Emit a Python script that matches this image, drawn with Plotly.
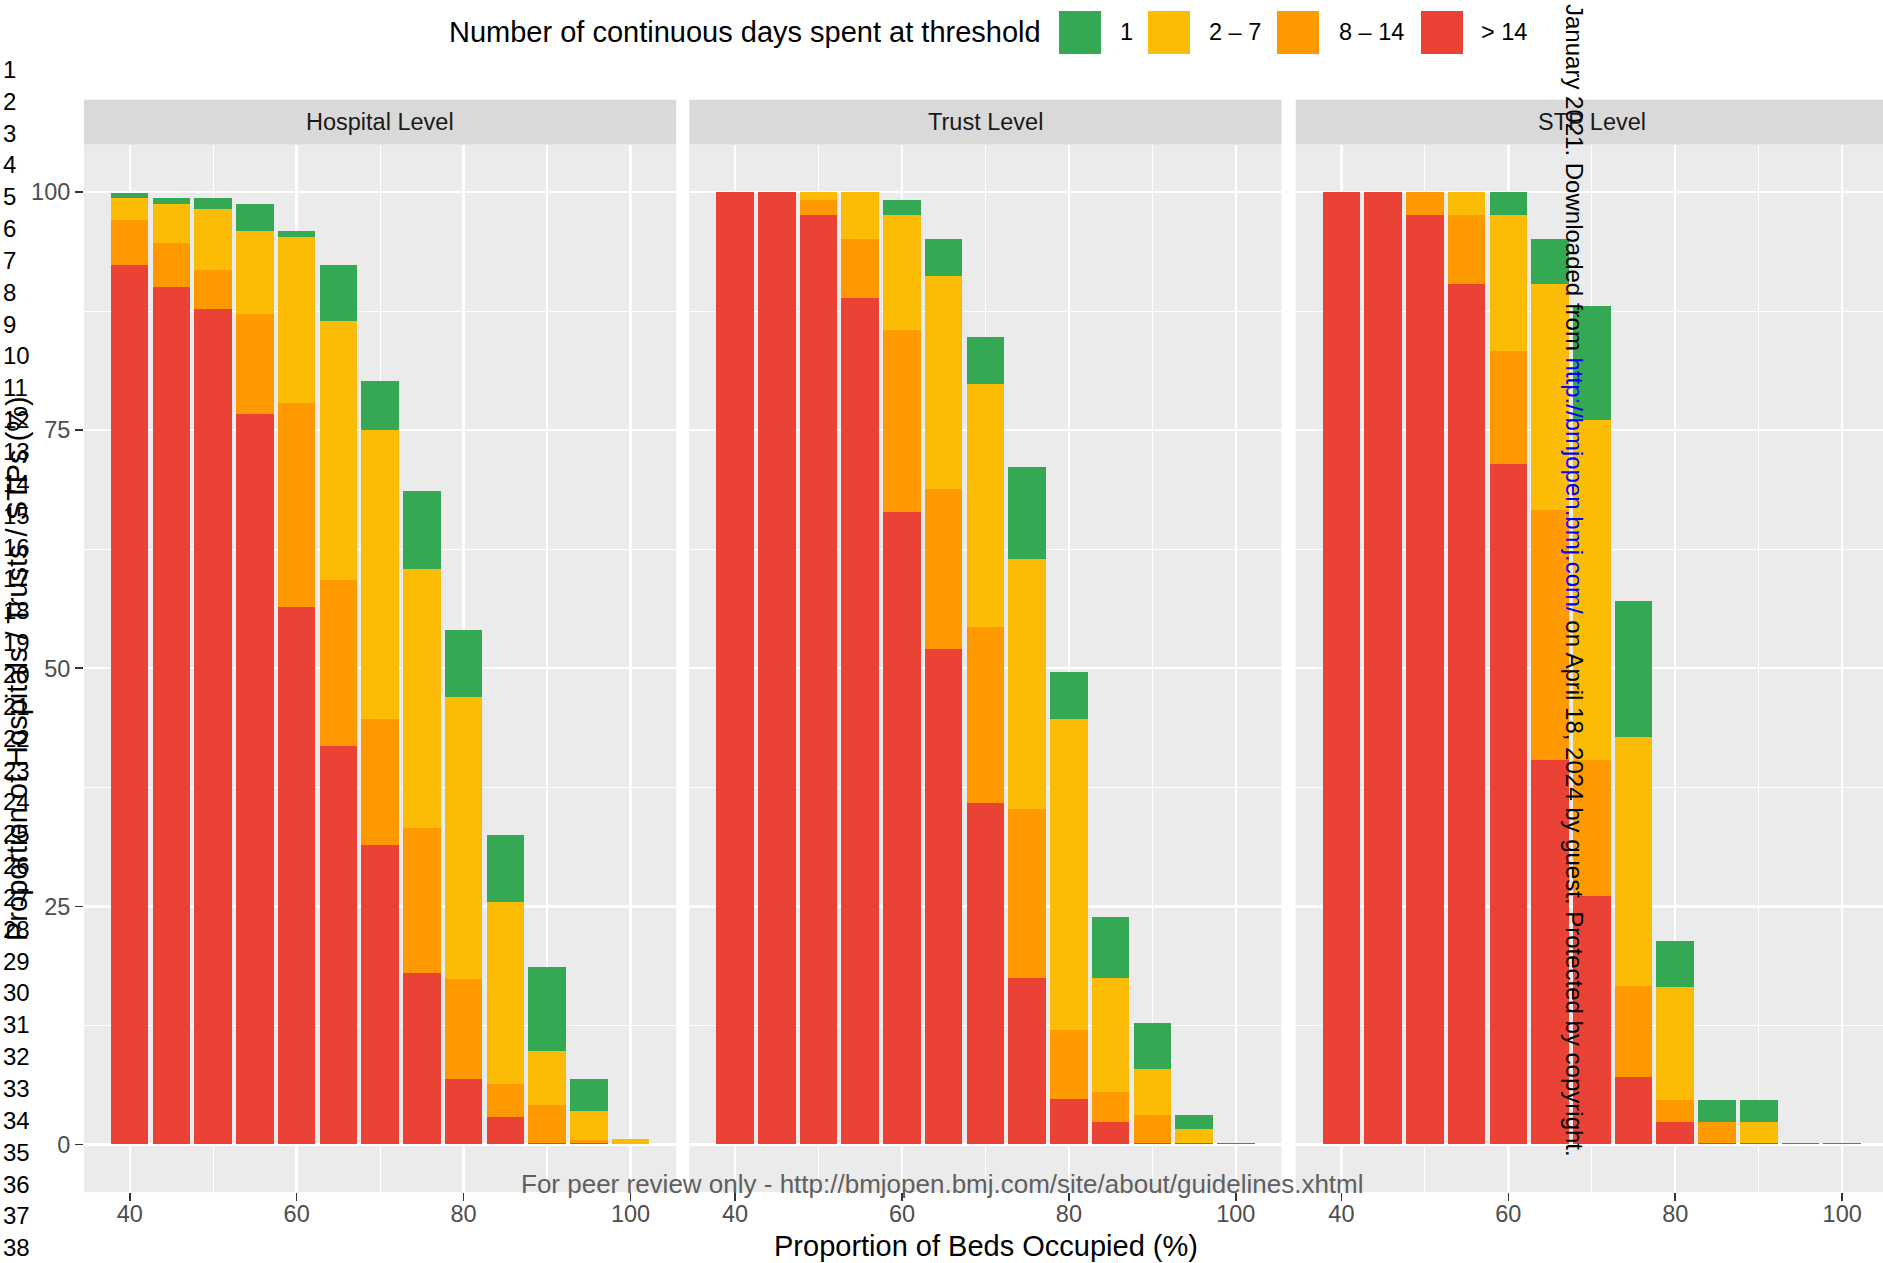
import plotly.graph_objects as go

W, H = 1883, 1263

# ---------------- data ----------------
occupancy = [40, 45, 50, 55, 60, 65, 70, 75, 80, 85, 90, 95, 100]
categories = ["> 14", "8 – 14", "2 – 7", "1"]          # bottom -> top of the stack
legend_order = ["1", "2 – 7", "8 – 14", "> 14"]
cat_colors = {"1": "#34A853", "2 – 7": "#FBBC05", "8 – 14": "#FF9900", "> 14": "#EA4335"}
panel_titles = ["Hospital Level", "Trust Level", "STP Level"]

# share (%) of units in each category of continuous days at threshold
hospital_gt14 = [92.4, 90.0, 87.7, 76.7, 56.4, 41.8, 31.4, 18.0, 6.9, 2.9, 0.15, 0.15, 0.1]
hospital_8_14 = [4.7, 4.7, 4.1, 10.5, 21.5, 17.5, 13.3, 15.2, 10.5, 3.5, 3.95, 0.35, 0.0]
hospital_2_7 = [2.3, 4.1, 6.4, 8.7, 17.4, 27.2, 30.3, 27.2, 29.6, 19.1, 5.7, 3.0, 0.5]
hospital_1 = [0.5, 0.6, 1.2, 2.9, 0.6, 5.8, 5.2, 8.2, 7.0, 7.0, 8.8, 3.4, 0.0]

trust_gt14 = [100.0, 100.0, 97.6, 88.9, 66.4, 52.0, 35.9, 17.5, 4.8, 2.4, 0.15, 0.15, 0.15]
trust_8_14 = [0.0, 0.0, 1.6, 6.2, 19.1, 16.8, 18.4, 17.7, 7.2, 3.1, 2.95, 0.0, 0.0]
trust_2_7 = [0.0, 0.0, 0.8, 4.9, 12.1, 22.4, 25.6, 26.3, 32.7, 12.0, 4.8, 1.45, 0.0]
trust_1 = [0.0, 0.0, 0.0, 0.0, 1.6, 3.9, 4.9, 9.6, 4.9, 6.4, 4.9, 1.5, 0.0]

stp_gt14 = [100.0, 100.0, 97.6, 90.4, 71.4, 40.4, 26.1, 7.1, 2.4, 0.15, 0.15, 0.15, 0.15]
stp_8_14 = [0.0, 0.0, 2.4, 7.2, 11.9, 26.2, 14.3, 9.5, 2.3, 2.25, 0.0, 0.0, 0.0]
stp_2_7 = [0.0, 0.0, 0.0, 2.4, 14.3, 23.8, 35.7, 26.2, 11.8, 0.0, 2.25, 0.0, 0.0]
stp_1 = [0.0, 0.0, 0.0, 0.0, 2.4, 4.7, 11.9, 14.3, 4.9, 2.3, 2.3, 0.0, 0.0]

panel_data = [
    {"> 14": hospital_gt14, "8 – 14": hospital_8_14, "2 – 7": hospital_2_7, "1": hospital_1},
    {"> 14": trust_gt14, "8 – 14": trust_8_14, "2 – 7": trust_2_7, "1": trust_1},
    {"> 14": stp_gt14, "8 – 14": stp_8_14, "2 – 7": stp_2_7, "1": stp_1},
]

x_ticks = [40, 60, 80, 100]
y_ticks = [0, 25, 50, 75, 100]
line_numbers = list(range(1, 39))

# ---------------- layout geometry (pixels) ----------------
FONT = "Liberation Sans, Arial, Helvetica, sans-serif"
px_per_unit = 8.347
x_lo, x_hi = 34.525, 105.475
panel_lefts = [84.0, 689.3, 1295.7]
panel_w = (x_hi - x_lo) * px_per_unit
plot_top, plot_bot = 144.5, 1192.1
strip_top = 99.7


def px(x):
    return x / W


def py(y):
    return 1 - y / H


fig = go.Figure()

for i, data in enumerate(panel_data):
    suffix = "" if i == 0 else str(i + 1)
    for cat in categories:
        fig.add_trace(go.Bar(
            x=occupancy, y=data[cat], width=4.5,
            marker=dict(color=cat_colors[cat], line=dict(width=0)),
            name=cat, showlegend=False, hoverinfo="skip",
            xaxis="x" + suffix, yaxis="y" + suffix,
        ))

layout = dict(
    width=W, height=H, autosize=False,
    margin=dict(l=0, r=0, t=0, b=0, pad=0),
    paper_bgcolor="white", plot_bgcolor="#EBEBEB",
    barmode="stack", bargap=0,
    font=dict(family=FONT, color="black"),
    shapes=[], annotations=[],
)

for i in range(3):
    suffix = "" if i == 0 else str(i + 1)
    left = panel_lefts[i]
    right = min(left + panel_w, W)
    xr_hi = x_lo + (right - left) / px_per_unit
    layout["xaxis" + suffix] = dict(
        domain=[px(left), px(right)], range=[x_lo, xr_hi],
        anchor="y" + suffix, tickmode="array", tickvals=x_ticks,
        ticks="outside", ticklen=8, tickwidth=1.6, tickcolor="#333333",
        ticklabelstandoff=-7,
        tickfont=dict(size=23.5, color="#4D4D4D", family=FONT),
        showgrid=True, gridcolor="white", gridwidth=2.4,
        minor=dict(dtick=10, tick0=0, showgrid=True, gridcolor="white", gridwidth=1.2, ticks=""),
        zeroline=False, showline=False, fixedrange=True,
    )
    layout["yaxis" + suffix] = dict(
        domain=[py(plot_bot), py(plot_top)], range=[-5, 105],
        anchor="x" + suffix, tickmode="array", tickvals=y_ticks,
        ticks="outside" if i == 0 else "", ticklen=8, tickwidth=1.6, tickcolor="#333333",
        showticklabels=(i == 0),
        tickfont=dict(size=23.5, color="#4D4D4D", family=FONT),
        showgrid=True, gridcolor="white", gridwidth=2.4,
        minor=dict(dtick=12.5, tick0=0, showgrid=True, gridcolor="white", gridwidth=1.2, ticks=""),
        zeroline=False, showline=False, fixedrange=True,
    )
    # facet strip
    layout["shapes"].append(dict(
        type="rect", xref="paper", yref="paper",
        x0=px(left), x1=px(right), y0=py(plot_top), y1=py(strip_top),
        fillcolor="#D9D9D9", line=dict(width=0), layer="below",
    ))
    layout["annotations"].append(dict(
        text=panel_titles[i], xref="paper", yref="paper",
        x=px(left + panel_w / 2), y=py((plot_top + strip_top) / 2),
        xanchor="center", yanchor="middle", showarrow=False,
        font=dict(size=23.5, color="#1A1A1A", family=FONT),
    ))

# legend (drawn manually to match ggplot's top legend)
legend_keys_x = {"1": 1059, "2 – 7": 1148, "8 – 14": 1277, "> 14": 1421}
legend_labels_x = {"1": 1118, "2 – 7": 1207, "8 – 14": 1337, "> 14": 1479}
layout["annotations"].append(dict(
    text="Number of continuous days spent at threshold", xref="paper", yref="paper",
    x=px(1043), y=py(32), xanchor="right", yanchor="middle", showarrow=False,
    font=dict(size=29, color="black", family=FONT),
))
for cat in legend_order:
    kx = legend_keys_x[cat]
    layout["shapes"].append(dict(
        type="rect", xref="paper", yref="paper",
        x0=px(kx), x1=px(kx + 42), y0=py(54), y1=py(11),
        fillcolor=cat_colors[cat], line=dict(width=0),
    ))
    layout["annotations"].append(dict(
        text=cat, xref="paper", yref="paper",
        x=px(legend_labels_x[cat]), y=py(32), xanchor="left", yanchor="middle",
        showarrow=False, font=dict(size=23.5, color="black", family=FONT),
    ))

# axis titles
layout["annotations"].append(dict(
    text="Proportion of Beds Occupied (%)", xref="paper", yref="paper",
    x=px(986), y=py(1246), xanchor="center", yanchor="middle", showarrow=False,
    font=dict(size=29, color="black", family=FONT),
))
layout["annotations"].append(dict(
    text="Proportion of Hospitals / Trusts / STPs (%)", xref="paper", yref="paper",
    x=px(17), y=py(669), xanchor="center", yanchor="middle", showarrow=False,
    textangle=-90, font=dict(size=29, color="black", family=FONT),
))

# manuscript page furniture: line numbers, footer, side watermark
for n in line_numbers:
    layout["annotations"].append(dict(
        text=str(n), xref="paper", yref="paper",
        x=px(1), y=py(69.3 + (n - 1) * 31.85), xanchor="left", yanchor="middle",
        showarrow=False, font=dict(size=24, color="black", family=FONT),
    ))
layout["annotations"].append(dict(
    text="For peer review only - http://bmjopen.bmj.com/site/about/guidelines.xhtml",
    xref="paper", yref="paper", x=px(942), y=py(1184), xanchor="center", yanchor="middle",
    showarrow=False, font=dict(size=26, color="#5F5F5F", family=FONT),
))
layout["annotations"].append(dict(
    text="January 2021. Downloaded from <span style='color:#0000FF'>http://bmjopen.bmj.com/</span>"
         " on April 18, 2024 by guest. Protected by copyright.",
    xref="paper", yref="paper", x=px(1575), y=py(580), xanchor="center", yanchor="middle",
    textangle=90, showarrow=False, font=dict(size=24, color="black", family=FONT),
))

fig.update_layout(**layout)

fig.write_html(
    "out.html", include_plotlyjs=True, config={"displayModeBar": False, "staticPlot": True},
    post_script="document.body.style.margin='0';document.body.style.overflow='hidden';",
)
